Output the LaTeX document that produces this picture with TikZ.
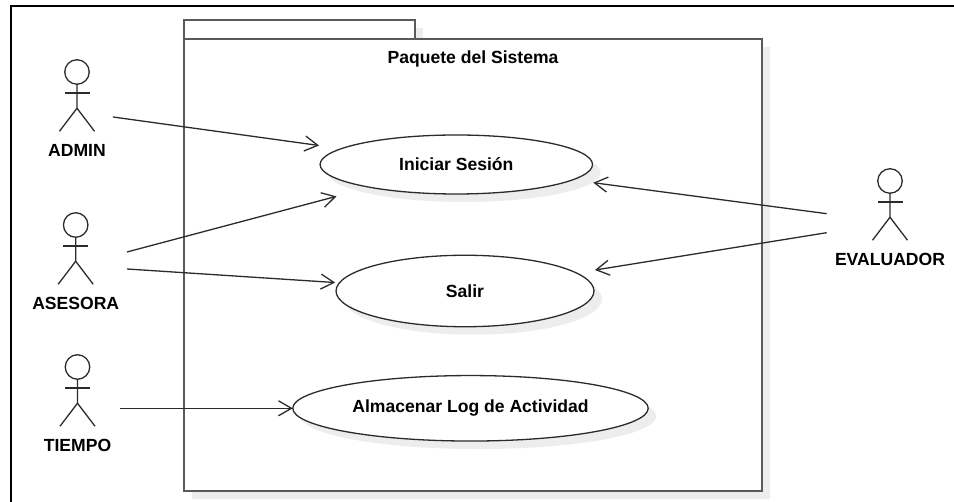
\documentclass[tikz,border=0pt]{standalone}
\usepackage{fontspec}
\setmainfont{Liberation Sans}
\usepackage{tikz}
\usetikzlibrary{arrows.meta,shapes.geometric,shadows}

\definecolor{pkgline}{HTML}{5A5A5A}
\definecolor{umlline}{HTML}{2B2B2B}

\tikzset{
	pkgbox/.style={draw=pkgline,line width=0.04cm,fill=white,rectangle,inner sep=0pt,outer sep=0pt,
		drop shadow={shadow xshift=0.16cm,shadow yshift=-0.16cm,fill=black!7,opacity=1}},
	usecase/.style={draw=umlline,line width=0.026cm,fill=white,ellipse,inner sep=0pt,outer sep=0pt,
		drop shadow={shadow xshift=0.16cm,shadow yshift=-0.16cm,fill=black!7,opacity=1}},
	actorhead/.style={draw=umlline,line width=0.026cm,circle,inner sep=0pt,outer sep=0pt,minimum size=0.49cm},
	actorline/.style={draw=umlline,line width=0.026cm},
	assoc/.style={->,draw=umlline,line width=0.026cm},
	txt/.style={font=\bfseries\fontsize{10pt}{12pt}\selectfont,text=black}
}

% #1 name, #2 x, #3 y of the head, #4 text
\newcommand{\actorfig}[4]{
	\node[actorhead] (#1) at (#2,#3) {};
	\node[txt] (#1txt) at (#2,#3+78) {#4};
	\draw[actorline] (#1.south) -- ++(0,24) -- ++(-17.5,23);
	\draw[actorline] (#1.south) ++(0,24) -- ++(17.5,23);
	\draw[actorline] (#2-12.5,#3+21) -- (#2+12.5,#3+21);
}

\begin{document}
\begin{tikzpicture}[> = {Straight Barb[length=0.26cm,width=0.3cm]}, % arrow head style
	x=0.02cm,y=-0.02cm]
	\useasboundingbox (0,0) rectangle (954,502);

	% outer frame
	\coordinate (fb) at (11,502);
	\coordinate (ftl) at (11,6);
	\coordinate (fr) at (954,6);
	\draw[line width=0.05cm,black] (fb)--(ftl)--(fr);

	% package
	\node[pkgbox,minimum width=4.62cm,minimum height=0.38cm] (tab) at (299.5,30) {};
	\node[pkgbox,minimum width=11.55cm,minimum height=9.03cm] (pkg) at (473,265) {};
	\node[txt] (pkgtxt) at (473,58.5) {Paquete del Sistema};

	% actors
	\actorfig{admin}{77}{72}{ADMIN}
	\actorfig{asesora}{75.7}{225}{ASESORA}
	\actorfig{tiempo}{77.5}{367}{TIEMPO}
	\actorfig{evaluador}{890}{181}{EVALUADOR}

	% use cases
	\node[usecase,minimum width=5.45cm,minimum height=1.18cm,txt] (login) at (456.3,164.5) {Iniciar Sesión};
	\node[usecase,minimum width=5.16cm,minimum height=1.43cm,txt] (salir) at (465,291) {Salir};
	\node[usecase,minimum width=7.11cm,minimum height=1.31cm,txt] (logact) at (470.5,408.3) {Almacenar Log de Actividad};

	% free ends beside the actors
	\coordinate (adminr) at (113,117);
	\coordinate (asesorau) at (127,252);
	\coordinate (asesorad) at (127,269);
	\coordinate (tiempor) at (120,408.3);
	\coordinate (evalu) at (826.7,213.7);
	\coordinate (evald) at (826.7,232.7);

	\draw[assoc,shorten >=0.454cm] (adminr)--(login);
	\draw[assoc,shorten >=0.70cm] (asesorau)--(login);
	\draw[assoc,shorten >=0.086cm] (asesorad)--(salir);
	\draw[assoc] (tiempor)--(logact);
	\draw[assoc,shorten >=0.42cm] (evalu)--(login);
	\draw[assoc,shorten >=0.375cm] (evald)--(salir);

\end{tikzpicture}
\end{document}
